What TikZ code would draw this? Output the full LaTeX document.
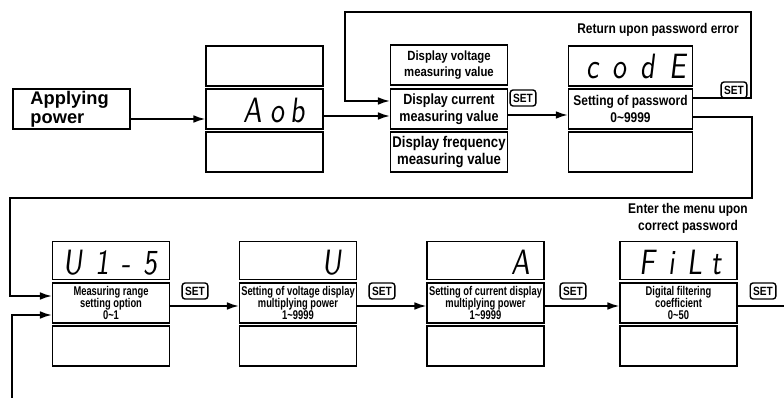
\documentclass[tikz,border=0pt]{standalone}
\usepackage{fontspec}
\setmainfont{Liberation Sans}
\newfontfamily\narrowfont[FakeStretch=0.85]{Liberation Sans}
\newfontfamily\slimfont[FakeStretch=0.74]{Liberation Sans}
\newfontfamily\segfont[FakeSlant=0.12, FakeStretch=0.8]{lmsans10-regular.otf}
\usetikzlibrary{arrows.meta}

\begin{document}
\begin{tikzpicture}[x=0.025cm, y=-0.025cm, line width=1.2pt,
    >={Latex[length=8.5pt,width=5.5pt]},
    lcd/.style={draw, line width=1pt, minimum width=2.92cm, minimum height=1cm, inner sep=0pt},
    menu/.style={lcd, align=center, font=\narrowfont\bfseries\fontsize{10}{12}\selectfont},
    item/.style={lcd, align=center, font=\slimfont\bfseries\fontsize{9}{8.8}\selectfont},
    seg/.style={anchor=base east, inner sep=0pt, font=\segfont\fontsize{25}{25}\selectfont},
    setkey/.style={draw, line width=1pt, rounded corners=2pt, inner sep=0pt, minimum width=0.64cm,
      minimum height=0.4cm, font=\narrowfont\bfseries\fontsize{8.5}{8.5}\selectfont}]
  \useasboundingbox (0,0) rectangle (784,398);
  % Power up
  \node[lcd, align=left, text width=2.05cm, font=\bfseries\fontsize{13}{13.5}\selectfont] (pwr) at (71.5,109) {Applying\\power};
  \node[lcd] (blank1) at (264.5,66) {};
  \node[lcd] (aob) at (264.5,109) {};
  \node[lcd] (blank2) at (264.5,152) {};
  \node[seg] (aobtxt) at ([shift={(-0.45cm,0.18cm)}]aob.south east) {A\hspace{6pt}o\hspace{4pt}b};
  % Display menu
  \node[menu, font=\narrowfont\bfseries\fontsize{9.5}{11.5}\selectfont] (volt) at (449,65) {Display voltage\\measuring value};
  \node[menu, font=\narrowfont\bfseries\fontsize{10.5}{12}\selectfont] (cur) at (449,109) {Display current\\measuring value};
  \node[menu, font=\narrowfont\bfseries\fontsize{11}{12}\selectfont] (freq) at (449,152) {Display frequency\\measuring value};
  % Password
  \node[lcd, minimum width=3.1cm] (code) at (630.5,66) {};
  \node[menu, minimum width=3.1cm] (pwd) at (630.5,109) {Setting of password\\0\textasciitilde 9999};
  \node[lcd, minimum width=3.1cm] (blank3) at (630.5,152) {};
  \node[seg] (codetxt) at ([shift={(-0.15cm,0.2cm)}]code.south east) {c\hspace{10pt}o\hspace{10pt}d\hspace{10pt}E};
  % Menu
  \node[lcd, minimum height=0.95cm] (rngd) at (111,260.5) {};
  \node[item] (rng) at (111,303) {Measuring range\\setting option\\0\textasciitilde 1};
  \node[lcd] (rngb) at (111,346) {};
  \node[lcd, minimum height=0.95cm] (vmuld) at (298,260.5) {};
  \node[item] (vmul) at (298,303) {Setting of voltage display\\multiplying power\\1\textasciitilde 9999};
  \node[lcd] (vmulb) at (298,346) {};
  \node[lcd, minimum height=0.95cm] (amuld) at (485.5,260.5) {};
  \node[item] (amul) at (485.5,303) {Setting of current display\\multiplying power\\1\textasciitilde 9999};
  \node[lcd] (amulb) at (485.5,346) {};
  \node[lcd, minimum height=0.95cm] (filtd) at (678.5,260.5) {};
  \node[item] (filt) at (678.5,303) {Digital filtering\\coefficient\\0\textasciitilde 50};
  \node[lcd] (filtb) at (678.5,346) {};
  \node[seg] (rngtxt) at ([shift={(-0.28cm,0.15cm)}]rngd.south east) {U\hspace{9pt}1\hspace{9pt}-\hspace{9pt}5};
  \node[seg] (vmultxt) at ([shift={(-0.35cm,0.15cm)}]vmuld.south east) {U};
  \node[seg] (amultxt) at ([shift={(-0.35cm,0.15cm)}]amuld.south east) {A};
  \node[seg] (filttxt) at ([shift={(-0.38cm,0.15cm)}]filtd.south east) {F\hspace{9pt}i\hspace{9pt}L\hspace{6pt}t};
  % Notes
  \node[font=\narrowfont\bfseries\fontsize{10}{12}\selectfont] (errnote) at (658,30) {Return upon password error};
  \node[align=center, font=\narrowfont\bfseries\fontsize{10}{12}\selectfont] (oknote) at (688,218) {Enter the menu upon\\correct password};
  % SET keys
  \node[setkey] (set0) at (523,98) {SET};
  \node[setkey] (set1) at (734,90) {SET};
  \node[setkey] (set2) at (195,291) {SET};
  \node[setkey] (set3) at (382,291) {SET};
  \node[setkey] (set4) at (573,291) {SET};
  \node[setkey] (set5) at (763,291) {SET};
  % Connectors
  \coordinate (rtop) at (751,12);
  \coordinate (rleft) at (345,12);
  \coordinate (etop) at (752,198);
  \coordinate (eleft) at (10,198);
  \coordinate (back) at (12,398);
  \coordinate (out) at (784,306);
  \draw[->] ([yshift=-0.25cm]pwr.east) -- ([yshift=-0.25cm]aob.west);
  \draw[->] ([yshift=-0.175cm]aob.east) -- ([yshift=-0.175cm]cur.west);
  \draw[->] ([yshift=-0.15cm]cur.east) -- ([yshift=-0.15cm]pwd.west);
  \draw[->] ([yshift=0.275cm]pwd.east) -| (rtop) -- (rleft) |- ([yshift=0.2cm]cur.west);
  \draw[->] ([yshift=-0.2cm]pwd.east) -| (etop) -- (eleft) |- ([yshift=0.175cm]rng.west);
  \draw[->] (back) |- ([yshift=-0.3cm]rng.west);
  \draw[->] ([yshift=-0.075cm]rng.east) -- ([yshift=-0.075cm]vmul.west);
  \draw[->] ([yshift=-0.075cm]vmul.east) -- ([yshift=-0.075cm]amul.west);
  \draw[->] ([yshift=-0.075cm]amul.east) -- ([yshift=-0.075cm]filt.west);
  \draw ([yshift=-0.075cm]filt.east) -- (out);
\end{tikzpicture}
\end{document}
